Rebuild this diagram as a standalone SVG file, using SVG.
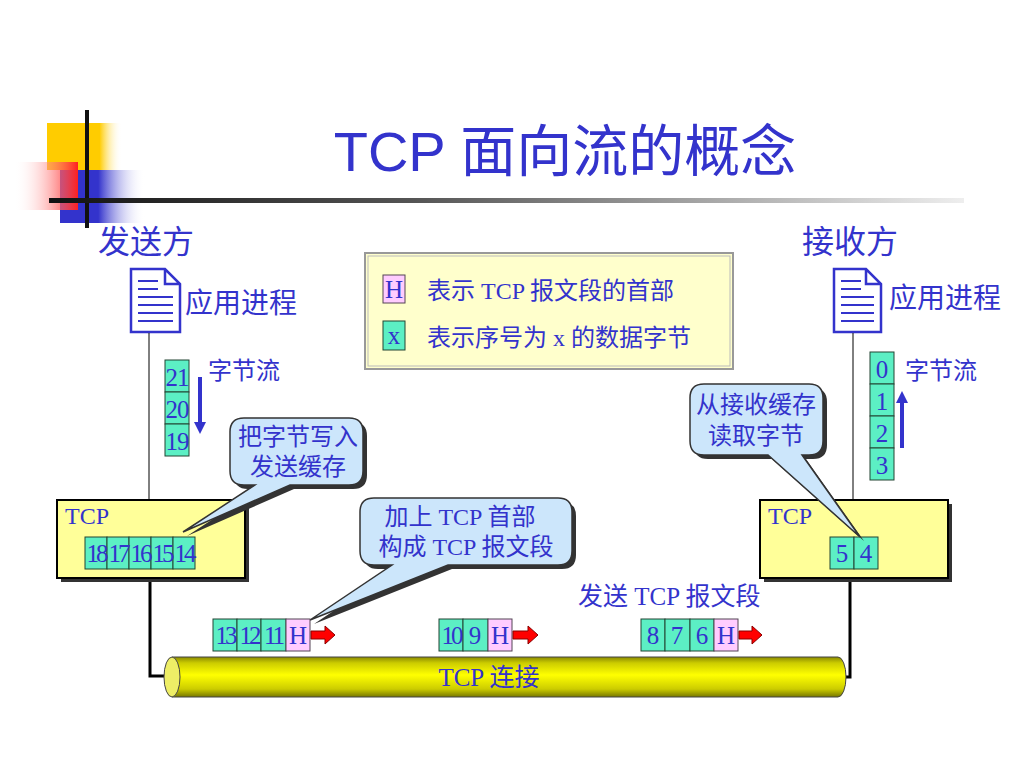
<svg xmlns="http://www.w3.org/2000/svg" width="1024" height="768" viewBox="0 0 1024 768">
<defs>
<style>
.cjk{font-family:"Liberation Sans","Noto Sans CJK SC",sans-serif;fill:#3333cc}
.ser{font-family:"Liberation Serif","Noto Sans CJK SC",serif;fill:#3333cc}
.mix{font-family:"Liberation Serif","Noto Sans CJK SC",serif;fill:#3333cc}
.cell{fill:#5cefc4;stroke:#224433;stroke-width:1}
.hcell{fill:#ffccff;stroke:#554455;stroke-width:1}
.num{font-family:"Liberation Serif",serif;font-size:25px;fill:#3333cc;text-anchor:middle}
.box{fill:#ffff99;stroke:#000;stroke-width:2}
.shadow{fill:#333}
.callout{fill:#cce6fb;stroke:#333;stroke-width:1.5}
.doc{fill:#fff;stroke:#3333cc;stroke-width:2.5}
.docl{stroke:#3333cc;stroke-width:2}
.thin{stroke:#000;stroke-width:1;fill:none}
.thick{stroke:#000;stroke-width:3;fill:none}
.rarr{fill:#ff0000;stroke:#880000;stroke-width:1}
</style>
<linearGradient id="gy" x1="0" y1="0" x2="1" y2="0"><stop offset="0" stop-color="#ffcc00"/><stop offset="0.7" stop-color="#ffcc00"/><stop offset="1" stop-color="#fff" stop-opacity="0"/></linearGradient>
<linearGradient id="gr" x1="1" y1="0" x2="0" y2="0"><stop offset="0" stop-color="#ff2020"/><stop offset="1" stop-color="#fff" stop-opacity="0"/></linearGradient>
<linearGradient id="gb" x1="0" y1="0" x2="1" y2="0"><stop offset="0" stop-color="#3333cc"/><stop offset="0.45" stop-color="#3333cc"/><stop offset="1" stop-color="#fff" stop-opacity="0"/></linearGradient>
<linearGradient id="gl" x1="0" y1="0" x2="1" y2="0"><stop offset="0" stop-color="#111"/><stop offset="0.4" stop-color="#555"/><stop offset="1" stop-color="#eee"/></linearGradient>
<linearGradient id="cyl" x1="0" y1="0" x2="0" y2="1"><stop offset="0" stop-color="#8a8a00"/><stop offset="0.15" stop-color="#cccc00"/><stop offset="0.45" stop-color="#ffff00"/><stop offset="0.8" stop-color="#cccc00"/><stop offset="1" stop-color="#777700"/></linearGradient>
<marker id="bh" viewBox="0 0 10 10" refX="5" refY="5" markerWidth="3" markerHeight="4" orient="auto"><path d="M0,0 L10,5 L0,10 Z" fill="#3333cc"/></marker>
</defs>
<rect width="1024" height="768" fill="#fff"/>

<g id="decor">
<rect x="47" y="123" width="75" height="47" fill="url(#gy)"/>
<rect x="60" y="170" width="85" height="53" fill="url(#gb)"/>
<rect x="14" y="162" width="64" height="48" fill="url(#gr)"/>
<rect x="85" y="110" width="4" height="118" fill="#111"/>
<rect x="49" y="198" width="915" height="5" fill="url(#gl)"/>
</g>

<text x="565" y="171" text-anchor="middle" font-family="Liberation Sans,'Noto Sans CJK SC',sans-serif" font-size="56" fill="#3333cc">TCP 面向流的概念</text>

<g id="sender">
<text x="98" y="253" class="cjk" font-size="32">发送方</text>
<g id="sender-app">
<path class="doc" d="M131,269 H165 L180,284 V332 H131 Z M165,269 V284 H180"/>
<path class="docl" d="M138,281 H158 M138,289 H158 M138,297 H173 M138,305 H173 M138,313 H173 M138,321 H173"/>
<text x="185" y="313" class="cjk" font-size="28">应用进程</text>
</g>
</g>

<g id="receiver">
<text x="802" y="253" class="cjk" font-size="32">接收方</text>
<g id="receiver-app">
<path class="doc" d="M834,269 H866 L881,284 V332 H834 Z M866,269 V284 H881"/>
<path class="docl" d="M841,281 H861 M841,289 H861 M841,297 H874 M841,305 H874 M841,313 H874 M841,321 H874"/>
<text x="889" y="308" class="cjk" font-size="28">应用进程</text>
</g>
</g>

<g id="connectors">
<line class="thin" x1="149" y1="333" x2="149" y2="500"/>
<line class="thin" x1="853" y1="333" x2="853" y2="500"/>
<path class="thick" d="M150,580 V676 H174"/>
<path class="thick" d="M850,580 V677 H843"/>
</g>

<g id="legend">
<rect x="365" y="253" width="368" height="116" fill="#ffffcc" stroke="#999" stroke-width="2"/>
<rect x="368" y="256" width="362" height="110" fill="none" stroke="#bbb" stroke-width="1"/>
<rect class="hcell" x="383" y="275" width="22" height="28"/>
<text class="num" x="394" y="298" font-size="22">H</text>
<rect class="cell" x="383" y="321" width="22" height="29"/>
<text class="num" x="394" y="344" font-size="22">x</text>
<text x="427" y="299" class="mix" font-size="24">表示 TCP 报文段的首部</text>
<text x="427" y="346" class="mix" font-size="24">表示序号为 x 的数据字节</text>
</g>

<g id="sender-stream">
<rect class="cell" x="165" y="360" width="24" height="32"/>
<rect class="cell" x="165" y="392" width="24" height="32"/>
<rect class="cell" x="165" y="424" width="24" height="32"/>
<text class="num" x="177" y="386" letter-spacing="-1">21</text>
<text class="num" x="177" y="418" letter-spacing="-1">20</text>
<text class="num" x="177" y="450" letter-spacing="-1">19</text>
<line x1="200" y1="377" x2="200" y2="428" stroke="#3333cc" stroke-width="4" marker-end="url(#bh)"/>
<text x="208" y="379" class="cjk" font-size="24">字节流</text>
</g>

<g id="receiver-stream">
<rect class="cell" x="870" y="352" width="24" height="32"/>
<rect class="cell" x="870" y="384" width="24" height="32"/>
<rect class="cell" x="870" y="416" width="24" height="32"/>
<rect class="cell" x="870" y="448" width="24" height="32"/>
<text class="num" x="882" y="378">0</text>
<text class="num" x="882" y="410">1</text>
<text class="num" x="882" y="442">2</text>
<text class="num" x="882" y="474">3</text>
<line x1="902" y1="448" x2="902" y2="397" stroke="#3333cc" stroke-width="4" marker-end="url(#bh)"/>
<text x="905" y="379" class="cjk" font-size="24">字节流</text>
</g>

<g id="sender-tcp">
<rect class="shadow" x="61" y="504" width="188" height="78"/>
<rect class="box" x="57" y="500" width="188" height="78"/>
<text x="65" y="524" class="ser" font-size="24">TCP</text>
<rect class="cell" x="85" y="537" width="22" height="32"/>
<rect class="cell" x="107" y="537" width="22" height="32"/>
<rect class="cell" x="129" y="537" width="22" height="32"/>
<rect class="cell" x="151" y="537" width="22" height="32"/>
<rect class="cell" x="173" y="537" width="22" height="32"/>
<text class="num" x="96" y="562" letter-spacing="-3">18</text>
<text class="num" x="118" y="562" letter-spacing="-3">17</text>
<text class="num" x="140" y="562" letter-spacing="-3">16</text>
<text class="num" x="162" y="562" letter-spacing="-3">15</text>
<text class="num" x="184" y="562" letter-spacing="-3">14</text>
</g>

<g id="receiver-tcp">
<rect class="shadow" x="764" y="504" width="188" height="78"/>
<rect class="box" x="760" y="500" width="188" height="78"/>
<text x="768" y="524" class="ser" font-size="24">TCP</text>
<rect class="cell" x="830" y="537" width="24" height="32"/>
<rect class="cell" x="854" y="537" width="24" height="32"/>
<text class="num" x="842" y="562">5</text>
<text class="num" x="866" y="562">4</text>
</g>

<g id="callout-write">
<path class="shadow" transform="translate(4,4)" d="M244,418 H349 Q363,418 363,432 V471 Q363,485 349,485 H290 L183,532 L255,485 H244 Q230,485 230,471 V432 Q230,418 244,418 Z"/>
<path class="callout" d="M244,418 H349 Q363,418 363,432 V471 Q363,485 349,485 H290 L183,532 L255,485 H244 Q230,485 230,471 V432 Q230,418 244,418 Z"/>
<text x="298" y="445" text-anchor="middle" class="cjk" font-size="24">把字节写入</text>
<text x="298" y="475" text-anchor="middle" class="cjk" font-size="24">发送缓存</text>
</g>

<g id="callout-header">
<path class="shadow" transform="translate(4,4)" d="M374,498 H558 Q572,498 572,512 V551 Q572,565 558,565 H448 L310,620 L392,565 H374 Q360,565 360,551 V512 Q360,498 374,498 Z"/>
<path class="callout" d="M374,498 H558 Q572,498 572,512 V551 Q572,565 558,565 H448 L310,620 L392,565 H374 Q360,565 360,551 V512 Q360,498 374,498 Z"/>
<text x="460" y="525" text-anchor="middle" class="mix" font-size="24">加上 TCP 首部</text>
<text x="466" y="555" text-anchor="middle" class="mix" font-size="24">构成 TCP 报文段</text>
</g>

<g id="callout-read">
<path class="shadow" transform="translate(4,4)" d="M704,384 H809 Q823,384 823,398 V441 Q823,455 809,455 H802 L860,537 L768,455 H704 Q690,455 690,441 V398 Q690,384 704,384 Z"/>
<path class="callout" d="M704,384 H809 Q823,384 823,398 V441 Q823,455 809,455 H802 L860,537 L768,455 H704 Q690,455 690,441 V398 Q690,384 704,384 Z"/>
<text x="756" y="413" text-anchor="middle" class="cjk" font-size="24">从接收缓存</text>
<text x="756" y="444" text-anchor="middle" class="cjk" font-size="24">读取字节</text>
</g>

<g id="tcp-connection">
<path d="M172,657 H838 A8,20 0 0 1 838,697 H172 Z" fill="url(#cyl)" stroke="#444" stroke-width="1"/>
<ellipse cx="172" cy="677" rx="8" ry="20" fill="#eeee66" stroke="#444" stroke-width="1"/>
<text x="489" y="686" text-anchor="middle" class="mix" font-size="25">TCP 连接</text>
</g>

<text x="578" y="605" class="mix" font-size="25">发送 TCP 报文段</text>

<g id="segment-1">
<rect class="cell" x="213" y="619" width="24" height="32"/>
<rect class="cell" x="237" y="619" width="24" height="32"/>
<rect class="cell" x="261" y="619" width="25" height="32"/>
<rect class="hcell" x="286" y="619" width="24" height="32"/>
<text class="num" x="225" y="644" letter-spacing="-3">13</text>
<text class="num" x="249" y="644" letter-spacing="-3">12</text>
<text class="num" x="273" y="644" letter-spacing="-3">11</text>
<text class="num" x="298" y="644">H</text>
<path class="rarr" d="M311,631 H325 V626 L335,635 L325,644 V639 H311 Z"/>
</g>

<g id="segment-2">
<rect class="cell" x="439" y="619" width="24" height="32"/>
<rect class="cell" x="463" y="619" width="25" height="32"/>
<rect class="hcell" x="488" y="619" width="24" height="32"/>
<text class="num" x="451" y="644" letter-spacing="-3">10</text>
<text class="num" x="475" y="644">9</text>
<text class="num" x="500" y="644">H</text>
<path class="rarr" d="M513,631 H528 V626 L538,635 L528,644 V639 H513 Z"/>
</g>

<g id="segment-3">
<rect class="cell" x="641" y="619" width="24" height="32"/>
<rect class="cell" x="665" y="619" width="25" height="32"/>
<rect class="cell" x="690" y="619" width="24" height="32"/>
<rect class="hcell" x="714" y="619" width="24" height="32"/>
<text class="num" x="653" y="644">8</text>
<text class="num" x="677" y="644">7</text>
<text class="num" x="702" y="644">6</text>
<text class="num" x="726" y="644">H</text>
<path class="rarr" d="M739,631 H752 V626 L762,635 L752,644 V639 H739 Z"/>
</g>
</svg>
